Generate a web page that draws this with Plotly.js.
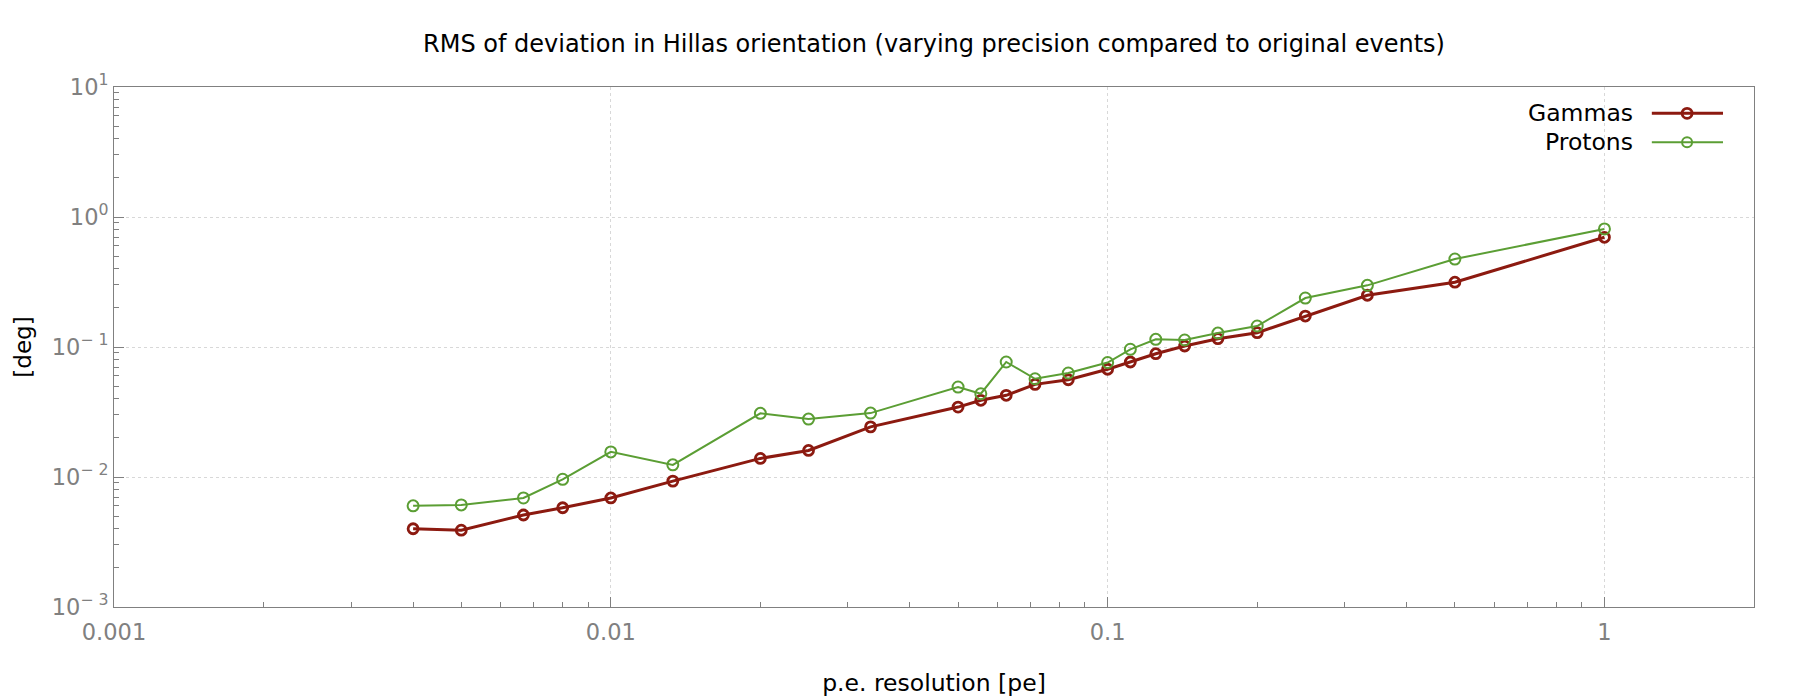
<!DOCTYPE html>
<html>
<head>
<meta charset="utf-8">
<script src="https://cdn.plot.ly/plotly-3.0.1.min.js"></script>
<style>
  html, body { margin: 0; padding: 0; background: #fff; }
  #chart { width: 1800px; height: 700px; }
</style>
</head>
<body>
<div id="chart"></div>
<script>
// p.e. resolution (1/n of a photo-electron)
const resolution = [0.004, 0.005, 0.00667, 0.008, 0.01, 0.01333, 0.02, 0.025, 0.03333,
  0.05, 0.05556, 0.0625, 0.07143, 0.08333, 0.1, 0.1111, 0.125, 0.1429, 0.1667,
  0.2, 0.25, 0.3333, 0.5, 1];

// RMS of orientation deviation [deg]
const gammas = [0.0040, 0.0039, 0.0051, 0.0058, 0.0069, 0.0093, 0.0139, 0.0160, 0.0243,
  0.0345, 0.0389, 0.0425, 0.0516, 0.0560, 0.0674, 0.0767, 0.0888, 0.1018, 0.1159,
  0.1288, 0.173, 0.250, 0.315, 0.698];
const protons = [0.0060, 0.0061, 0.0069, 0.0096, 0.0156, 0.0124, 0.0309, 0.0279, 0.0310,
  0.0492, 0.0437, 0.0767, 0.0570, 0.0631, 0.0760, 0.0960, 0.1146, 0.1132, 0.128,
  0.145, 0.238, 0.298, 0.475, 0.809];

const xTicks = [0.001, 0.01, 0.1, 1];
const xTickText = ['0.001', '0.01', '0.1', '1'];
const yTicks = [0.001, 0.01, 0.1, 1, 10];
const yTickText = ['10<sup>\u2212 3</sup>', '10<sup>\u2212 2</sup>', '10<sup>\u2212 1</sup>', '10<sup>0</sup>', '10<sup>1</sup>'];

const RED = '#8c1a10';
const GREEN = '#5b9e34';
const GREY = '#808080';
const FONT = 'DejaVu Sans';

// minor ticks 2..9 inside each decade
function minorTicks(lo, hi) {
  const out = [];
  for (let d = lo; d < hi; d++) {
    for (let k = 2; k <= 9; k++) out.push(k * Math.pow(10, d));
  }
  return out;
}

const traces = [
  {
    x: resolution, y: gammas, name: 'Gammas',
    type: 'scatter', mode: 'lines+markers',
    line: { color: RED, width: 3 },
    marker: { symbol: 'circle-open', size: 10, color: RED, line: { width: 2.8, color: RED } },
  },
  {
    x: resolution, y: protons, name: 'Protons',
    type: 'scatter', mode: 'lines+markers',
    line: { color: GREEN, width: 2 },
    marker: { symbol: 'circle-open', size: 11, color: GREEN, line: { width: 2, color: GREEN } },
  },
];

const axisCommon = {
  type: 'log',
  tickmode: 'array',
  ticks: 'inside', ticklen: 10, tickwidth: 1, tickcolor: GREY,
  tickfont: { family: FONT, size: 22.5, color: GREY },
  showgrid: true, gridcolor: '#d8d8d8', griddash: 'dot', gridwidth: 1,
  showline: true, linecolor: GREY, linewidth: 1, mirror: true,
  zeroline: false,
};

// legend drawn by hand so the label sits left of the sample, like the original
const legendItems = [
  { name: 'Gammas', color: RED, width: 3, y: 0.9494 },
  { name: 'Protons', color: GREEN, width: 2, y: 0.8937 },
];
const shapes = [];
const annotations = [];
legendItems.forEach(it => {
  shapes.push({ type: 'line', xref: 'paper', yref: 'paper', x0: 0.9377, x1: 0.9811, y0: it.y, y1: it.y,
    line: { color: it.color, width: it.width } });
  shapes.push({ type: 'circle', xref: 'paper', yref: 'paper', xsizemode: 'pixel', ysizemode: 'pixel',
    xanchor: 0.9592, yanchor: it.y, x0: -5, x1: 5, y0: -5, y1: 5,
    line: { color: it.color, width: it.width === 3 ? 2.8 : 2 }, fillcolor: 'rgba(0,0,0,0)' });
  annotations.push({ text: it.name, xref: 'paper', yref: 'paper', x: 0.9275, y: it.y,
    xanchor: 'right', yanchor: 'middle', showarrow: false,
    font: { family: FONT, size: 23.5, color: '#000' } });
});

const layout = {
  width: 1800, height: 700,
  margin: { l: 113.5, r: 46, t: 87, b: 93 },
  paper_bgcolor: '#fff', plot_bgcolor: '#fff',
  font: { family: FONT, size: 22, color: '#000' },
  showlegend: false,
  title: {
    text: 'RMS of deviation in Hillas orientation (varying precision compared to original events)',
    font: { family: FONT, size: 24, color: '#000' },
    x: 0.5, xref: 'paper', xanchor: 'center',
    y: 1 - 44 / 700, yref: 'container', yanchor: 'middle',
  },
  xaxis: Object.assign({}, axisCommon, {
    range: [-3, Math.log10(2)],
    tickvals: xTicks, ticktext: xTickText,
    ticklabelstandoff: 5,
    minor: { tickvals: minorTicks(-3, 1), ticks: 'inside', ticklen: 5, tickcolor: GREY, showgrid: false },
    title: { text: 'p.e. resolution [pe]', font: { family: FONT, size: 23.5, color: '#000' }, standoff: 30 },
  }),
  yaxis: Object.assign({}, axisCommon, {
    range: [-3, 1],
    tickvals: yTicks, ticktext: yTickText,
    minor: { tickvals: minorTicks(-3, 1), ticks: 'inside', ticklen: 5, tickcolor: GREY, showgrid: false },
    title: { text: '[deg]', font: { family: FONT, size: 23, color: '#000' }, standoff: 13 },
  }),
  shapes: shapes,
  annotations: annotations,
};

Plotly.newPlot('chart', traces, layout, { displayModeBar: false, staticPlot: true });
</script>
</body>
</html>
